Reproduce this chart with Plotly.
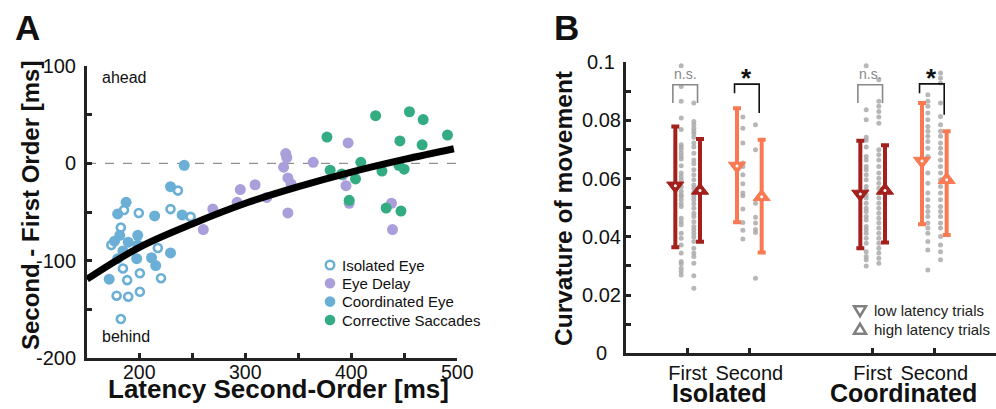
import plotly.graph_objects as go

# ---------------- Panel A data ----------------
iso_x = [236, 185, 199, 229, 248, 182, 173, 217, 184, 200, 188, 220, 178, 189, 200, 182]
iso_y = [-28, -48, -51, -47, -55, -66, -84, -87, -108, -113, -120, -118, -136, -137, -132, -160]

coord_x = [242, 229, 187, 179, 214, 240, 181, 198, 189, 184, 198, 179, 197, 211, 215, 229, 171, 176]
coord_y = [-2, -24, -40, -52, -54, -53, -74, -74, -81, -90, -84, -98, -98, -97, -105, -92, -119, -80]

delay_x = [260, 269, 292, 295, 309, 320, 338, 339, 336, 340, 343, 340, 364, 397, 395, 398, 438, 439, 392]
delay_y = [-68, -47, -40, -27, -22, -35, 10, 6, -4, -15, -21, -51, 1, 21, -23, -41, -41, -68, -12]

corr_x = [377, 423, 455, 468, 446, 467, 491, 380, 409, 391, 404, 429, 445, 450, 398, 433, 447]
corr_y = [27, 49, 53, 45, 23, 19, 29, -7, 1, -11, -16, -8, -2, -6, -38, -46, -49]

fit_x = [150, 200, 250, 300, 350, 400, 450, 497]
fit_y = [-119, -86, -62, -41, -24, -9, 4, 15]

a_xticks = [200, 250, 300, 350, 400, 450, 500]
a_xticklabels = ["200", "", "300", "", "400", "", "500"]
a_yticks = [-200, -150, -100, -50, 0, 50, 100]
a_yticklabels = ["-200", "", "-100", "", "0", "", "100"]
a_legend = ["Isolated Eye", "Eye Delay", "Coordinated Eye", "Corrective Saccades"]

# ---------------- Panel B data ----------------
b_pos = [1, 2, 4, 5]
b_ticklabels = ["First", "Second", "First", "Second"]
b_groups = ["Isolated", "Coordinated"]
b_group_pos = [1.5, 4.5]
b_legend = ["low latency trials", "high latency trials"]

low_mean = [0.0575, 0.0643, 0.0547, 0.0660]
low_top = [0.0779, 0.0841, 0.0730, 0.0859]
low_bot = [0.0364, 0.0450, 0.0361, 0.0443]
high_mean = [0.0559, 0.0537, 0.0559, 0.0596]
high_top = [0.0736, 0.0733, 0.0714, 0.0762]
high_bot = [0.0383, 0.0346, 0.0380, 0.0406]

dots_low = [
    [0.0987, 0.0916, 0.0865, 0.0808, 0.0768, 0.0716, 0.0708, 0.0699, 0.0687, 0.0676, 0.0667,
     0.0644, 0.0619, 0.0607, 0.0596, 0.0573, 0.0556, 0.0544, 0.0538, 0.0527, 0.0513, 0.0504,
     0.0464, 0.0452, 0.0441, 0.0412, 0.0395, 0.0372, 0.0344, 0.0315, 0.0307, 0.0292, 0.0281, 0.0269],
    [0.0811, 0.0773, 0.0722, 0.0653, 0.0641, 0.0613, 0.0582, 0.0550, 0.0541, 0.0495, 0.0449,
     0.0422, 0.0392],
    [0.0987, 0.0836, 0.0802, 0.0742, 0.0731, 0.0708, 0.0676, 0.0664, 0.0641, 0.0630, 0.0613,
     0.0596, 0.0573, 0.0561, 0.0544, 0.0533, 0.0515, 0.0498, 0.0487, 0.0470, 0.0458, 0.0435,
     0.0424, 0.0412, 0.0395, 0.0378, 0.0349, 0.0332, 0.0321, 0.0300],
    [0.0888, 0.0865, 0.0848, 0.0825, 0.0802, 0.0779, 0.0762, 0.0745, 0.0727, 0.0704, 0.0676,
     0.0619, 0.0584, 0.0550, 0.0527, 0.0504, 0.0487, 0.0470, 0.0447, 0.0430, 0.0412, 0.0384,
     0.0355, 0.0286],
]
dots_high = [
    [0.0859, 0.0796, 0.0785, 0.0773, 0.0762, 0.0754, 0.0742, 0.0722, 0.0708, 0.0687, 0.0664,
     0.0651, 0.0630, 0.0613, 0.0596, 0.0578, 0.0567, 0.0552, 0.0538, 0.0527, 0.0513, 0.0498,
     0.0481, 0.0470, 0.0452, 0.0435, 0.0424, 0.0412, 0.0399, 0.0384, 0.0361, 0.0344, 0.0332,
     0.0309, 0.0266, 0.0223],
    [0.0785, 0.0699, 0.0515, 0.0467, 0.0447, 0.0425, 0.0415, 0.0258],
    [0.0939, 0.0865, 0.0848, 0.0830, 0.0811, 0.0790, 0.0699, 0.0682, 0.0664, 0.0641, 0.0619,
     0.0601, 0.0584, 0.0567, 0.0550, 0.0533, 0.0515, 0.0498, 0.0481, 0.0464, 0.0447, 0.0430,
     0.0412, 0.0395, 0.0378, 0.0361, 0.0344, 0.0326, 0.0309],
    [0.0962, 0.0945, 0.0928, 0.0859, 0.0813, 0.0785, 0.0762, 0.0745, 0.0722, 0.0704, 0.0687,
     0.0664, 0.0641, 0.0619, 0.0596, 0.0573, 0.0550, 0.0527, 0.0504, 0.0487, 0.0470, 0.0447,
     0.0430, 0.0401, 0.0372, 0.0349, 0.0321],
]

sig_labels = ["n.s.", "*", "n.s.", "*"]
sig_top = [0.0922, 0.0924, 0.0922, 0.0925]
sig_left_bot = [0.0859, 0.0893, 0.0859, 0.0893]
sig_right_bot = [0.0859, 0.0825, 0.0859, 0.0819]

b_yticks = [0, 0.01, 0.02, 0.03, 0.04, 0.05, 0.06, 0.07, 0.08, 0.09, 0.1]
b_yticklabels = ["0", "", "0.02", "", "0.04", "", "0.06", "", "0.08", "", "0.1"]

# ---------------- styles ----------------
FONT = "Arial, Liberation Sans, Helvetica, sans-serif"
BLUE = "#6cafd6"
PURPLE = "#aa9fdb"
GREEN = "#33ac82"
DARK = "#a3201d"
CORAL = "#f97a52"
GREY = "#aaaaaa"
AX = "#222222"
W, H = 996, 409


def px(x):
    return x / W


def py(y):
    return 1 - y / H


fig = go.Figure()

# ---- Panel A ----
fig.add_trace(go.Scatter(x=iso_x, y=iso_y, mode="markers", name=a_legend[0],
                         marker=dict(symbol="circle", size=8, color="white",
                                     line=dict(color=BLUE, width=2.6)),
                         xaxis="x", yaxis="y"))
fig.add_trace(go.Scatter(x=coord_x, y=coord_y, mode="markers", name=a_legend[2],
                         marker=dict(symbol="circle", size=11, color=BLUE),
                         xaxis="x", yaxis="y"))
fig.add_trace(go.Scatter(x=delay_x, y=delay_y, mode="markers", name=a_legend[1],
                         marker=dict(symbol="circle", size=11, color=PURPLE),
                         xaxis="x", yaxis="y"))
fig.add_trace(go.Scatter(x=corr_x, y=corr_y, mode="markers", name=a_legend[3],
                         marker=dict(symbol="circle", size=11, color=GREEN),
                         xaxis="x", yaxis="y"))
fig.add_trace(go.Scatter(x=fit_x, y=fit_y, mode="lines", line=dict(color="black", width=7, shape="spline"),
                         name="fit", xaxis="x", yaxis="y", hoverinfo="skip"))

# ---- Panel B ----
for i, p in enumerate(b_pos):
    fig.add_trace(go.Scatter(x=[p - 0.105] * len(dots_low[i]), y=dots_low[i], mode="markers",
                             marker=dict(size=5, color=GREY, opacity=0.85),
                             xaxis="x2", yaxis="y2"))
    fig.add_trace(go.Scatter(x=[p + 0.1] * len(dots_high[i]), y=dots_high[i], mode="markers",
                             marker=dict(size=5, color=GREY, opacity=0.85),
                             xaxis="x2", yaxis="y2"))

for i, p in enumerate(b_pos):
    c = DARK if i % 2 == 0 else CORAL
    fig.add_trace(go.Scatter(
        x=[p - 0.2], y=[low_mean[i]], mode="markers",
        marker=dict(symbol="triangle-down", size=15, color=c, line=dict(color=c, width=1)),
        error_y=dict(type="data", symmetric=False, array=[low_top[i] - low_mean[i]],
                     arrayminus=[low_mean[i] - low_bot[i]], color=c, thickness=4, width=4),
        xaxis="x2", yaxis="y2"))
    fig.add_trace(go.Scatter(
        x=[p + 0.2], y=[high_mean[i]], mode="markers",
        marker=dict(symbol="triangle-up", size=15, color=c, line=dict(color=c, width=1)),
        error_y=dict(type="data", symmetric=False, array=[high_top[i] - high_mean[i]],
                     arrayminus=[high_mean[i] - high_bot[i]], color=c, thickness=4, width=4),
        xaxis="x2", yaxis="y2"))
    fig.add_trace(go.Scatter(x=[p - 0.2, p + 0.2], y=[low_mean[i], high_mean[i]], mode="markers",
                             marker=dict(size=3, color="white"),
                             xaxis="x2", yaxis="y2", hoverinfo="skip"))

# significance brackets
for i, p in enumerate(b_pos):
    col = "#888888" if sig_labels[i] == "n.s." else "#111111"
    fig.add_trace(go.Scatter(
        x=[p - 0.24, p - 0.24, p + 0.16, p + 0.16],
        y=[sig_left_bot[i], sig_top[i], sig_top[i], sig_right_bot[i]],
        mode="lines", line=dict(color=col, width=1.6),
        xaxis="x2", yaxis="y2", hoverinfo="skip"))

axis_common = dict(showline=True, linecolor=AX, linewidth=3, ticks="inside", ticklen=5,
                   tickwidth=3, tickcolor=AX, showgrid=False, zeroline=False, automargin=False,
                   tickfont=dict(family=FONT, size=20, color="#111"))

annotations = []
shapes = []


def ann(text, x, y, size, xref="paper", yref="paper", angle=0, xanchor="center",
        yanchor="middle", color="#111"):
    annotations.append(dict(text=text, x=x, y=y, xref=xref, yref=yref, textangle=angle,
                            xanchor=xanchor, yanchor=yanchor, showarrow=False,
                            font=dict(family=FONT, size=size, color=color)))


# panel letters
ann("<b>A</b>", px(27), py(27), 35)
ann("<b>B</b>", px(566), py(27), 35)
# axis titles
ann("<b>Second - First Order [ms]</b>", px(30), py(206), 24, angle=-90)
ann("<b>Latency Second-Order [ms]</b>", px(278), py(389), 26)
ann("<b>Curvature of movement</b>", px(563), py(209), 24.5, angle=-90)
ann("ahead", px(100), py(77), 16, xanchor="left")
ann("behind", px(100), py(336), 16, xanchor="left")
# panel A x tick labels
for v, t in zip(a_xticks, a_xticklabels):
    if t:
        ann(t, v, py(371.5), 19.5, xref="x")
for g, gp in zip(b_groups, b_group_pos):
    ann("<b>%s</b>" % g, gp, py(393), 25, xref="x2")
for v, t in zip(b_yticks, b_yticklabels):
    if t:
        ann(t, px(601), v, 20, yref="y2")
for i, p in enumerate(b_pos):
    if sig_labels[i] == "n.s.":
        ann("n.s.", p - 0.04, sig_top[i] + 0.0036, 14, xref="x2", yref="y2", color="#888888")
    else:
        ann("<b>*</b>", p - 0.04, sig_top[i] + 0.0020, 26, xref="x2", yref="y2")

# ---- manual legend A ----
a_leg_rows = [265, 283.3, 301.6, 320]
a_leg_style = [("white", BLUE, 2.4, 4.3), (PURPLE, PURPLE, 0, 5.3),
               (BLUE, BLUE, 0, 5.3), (GREEN, GREEN, 0, 5.3)]
for lab, yrow, (fill, lc, lw, r) in zip(a_legend, a_leg_rows, a_leg_style):
    shapes.append(dict(type="circle", xref="paper", yref="paper",
                       x0=px(330 - r), x1=px(330 + r), y0=py(yrow + r), y1=py(yrow - r),
                       fillcolor=fill, line=dict(color=lc, width=lw)))
    ann(lab, px(340), py(yrow), 15, xanchor="left")

# ---- manual legend B ----
b_leg_rows = [310.7, 329.3]
for k, (lab, yrow) in enumerate(zip(b_legend, b_leg_rows)):
    cx = 860
    if k == 0:
        pts = [(cx - 6, yrow - 4.5), (cx + 6, yrow - 4.5), (cx, yrow + 5.5)]
    else:
        pts = [(cx - 6, yrow + 4.5), (cx + 6, yrow + 4.5), (cx, yrow - 5.5)]
    path = "M %f %f L %f %f L %f %f Z" % tuple(v for (a, b) in pts for v in (px(a), py(b)))
    shapes.append(dict(type="path", xref="paper", yref="paper", path=path,
                       fillcolor="rgba(0,0,0,0)", line=dict(color="#808080", width=2.5)))
    ann(lab, px(872), py(yrow), 15, xanchor="left", color="#222")

shapes.insert(0, dict(type="line", xref="x", yref="y", x0=150, x1=500, y0=0, y1=0,
                      line=dict(color="#777777", width=1, dash="dash"), layer="below"))

fig.update_layout(
    width=W, height=H, margin=dict(l=0, r=0, t=0, b=0, pad=0, autoexpand=False),
    paper_bgcolor="white", plot_bgcolor="white",
    font=dict(family=FONT, color="#111"),
    showlegend=False,
    xaxis=dict(domain=[px(87), px(457)], range=[150, 500], tickvals=a_xticks,
               showticklabels=False, anchor="y", **axis_common),
    yaxis=dict(domain=[py(358), py(66)], range=[-200, 100], tickvals=a_yticks,
               ticktext=a_yticklabels, anchor="x", ticklabelstandoff=4, **axis_common),
    xaxis2=dict(domain=[px(626), 1.0], range=[0, 6], tickvals=b_pos, ticktext=b_ticklabels,
                anchor="y2", ticklabelstandoff=0, **axis_common),
    yaxis2=dict(domain=[py(353.3), py(62)], range=[0, 0.1], tickvals=b_yticks,
                showticklabels=False, anchor="x2", **axis_common),
    annotations=annotations,
    shapes=shapes,
)

fig.write_html("out.html")
